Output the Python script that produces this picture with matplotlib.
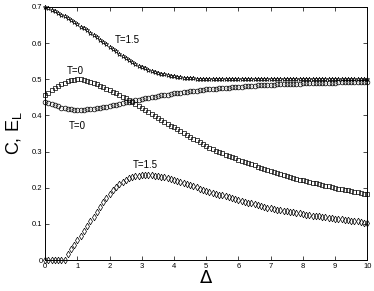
import numpy as np
import matplotlib
matplotlib.use('Agg')
import matplotlib.pyplot as plt

plt.rcParams['font.family'] = ['Liberation Sans', 'DejaVu Sans']

delta = np.round(np.arange(0, 101) * 0.1, 1)

# T=1.5, upper curve (E_L)
el_t15 = [0.700, 0.697, 0.693, 0.689, 0.684, 0.679, 0.674, 0.669, 0.663, 0.658,
          0.652, 0.646, 0.641, 0.635, 0.629, 0.623, 0.616, 0.610, 0.603, 0.597,
          0.590, 0.584, 0.577, 0.571, 0.564, 0.558, 0.553, 0.547, 0.542, 0.538,
          0.534, 0.530, 0.527, 0.524, 0.521, 0.518, 0.516, 0.514, 0.512, 0.510,
          0.508, 0.507, 0.506, 0.505, 0.504, 0.503, 0.503, 0.502, 0.502, 0.501,
          0.501, 0.501, 0.501, 0.501, 0.501, 0.501, 0.501, 0.501, 0.501, 0.501,
          0.501, 0.501, 0.501, 0.501, 0.501, 0.500, 0.500, 0.500, 0.500, 0.500,
          0.500, 0.500, 0.500, 0.500, 0.500, 0.500, 0.500, 0.500, 0.500, 0.500,
          0.500, 0.500, 0.500, 0.500, 0.500, 0.500, 0.500, 0.500, 0.500, 0.500,
          0.500, 0.500, 0.500, 0.500, 0.500, 0.500, 0.500, 0.500, 0.500, 0.500,
          0.500]

# T=0, squares
c_t0 = [0.456, 0.463, 0.470, 0.476, 0.482, 0.487, 0.491, 0.495, 0.498, 0.499,
        0.500, 0.500, 0.498, 0.496, 0.493, 0.490, 0.486, 0.482, 0.478, 0.474,
        0.470, 0.466, 0.461, 0.457, 0.452, 0.447, 0.442, 0.437, 0.431, 0.426,
        0.421, 0.416, 0.410, 0.405, 0.399, 0.394, 0.388, 0.383, 0.377, 0.372,
        0.367, 0.362, 0.356, 0.351, 0.346, 0.341, 0.336, 0.331, 0.326, 0.321,
        0.316, 0.311, 0.307, 0.303, 0.300, 0.296, 0.292, 0.289, 0.285, 0.282,
        0.278, 0.275, 0.271, 0.268, 0.265, 0.262, 0.258, 0.255, 0.252, 0.249,
        0.246, 0.243, 0.241, 0.238, 0.235, 0.233, 0.230, 0.228, 0.225, 0.223,
        0.221, 0.218, 0.216, 0.214, 0.212, 0.210, 0.208, 0.206, 0.204, 0.202,
        0.200, 0.198, 0.196, 0.194, 0.193, 0.191, 0.189, 0.188, 0.186, 0.184,
        0.183]

# T=0, circles
el_t0 = [0.438, 0.435, 0.431, 0.428, 0.425, 0.422, 0.420, 0.418, 0.417, 0.416,
         0.416, 0.416, 0.416, 0.417, 0.418, 0.419, 0.420, 0.421, 0.423, 0.424,
         0.426, 0.428, 0.430, 0.432, 0.434, 0.436, 0.438, 0.440, 0.442, 0.443,
         0.445, 0.447, 0.449, 0.451, 0.452, 0.454, 0.456, 0.457, 0.458, 0.460,
         0.461, 0.462, 0.463, 0.465, 0.466, 0.467, 0.468, 0.469, 0.470, 0.471,
         0.472, 0.473, 0.473, 0.474, 0.475, 0.476, 0.477, 0.477, 0.478, 0.479,
         0.479, 0.480, 0.481, 0.481, 0.482, 0.482, 0.483, 0.483, 0.484, 0.484,
         0.485, 0.485, 0.486, 0.486, 0.486, 0.487, 0.487, 0.488, 0.488, 0.488,
         0.489, 0.489, 0.489, 0.490, 0.490, 0.490, 0.490, 0.491, 0.491, 0.491,
         0.491, 0.492, 0.492, 0.492, 0.492, 0.492, 0.493, 0.493, 0.493, 0.493,
         0.493]

# T=1.5, diamonds
c_t15 = [0.000, 0.000, 0.000, 0.000, 0.000, 0.000, 0.000, 0.018, 0.030, 0.043,
         0.055, 0.068, 0.081, 0.094, 0.107, 0.120, 0.134, 0.147, 0.160, 0.172,
         0.184, 0.194, 0.203, 0.211, 0.217, 0.222, 0.226, 0.229, 0.232, 0.234,
         0.235, 0.236, 0.236, 0.235, 0.234, 0.233, 0.231, 0.229, 0.227, 0.224,
         0.221, 0.219, 0.216, 0.213, 0.210, 0.207, 0.204, 0.201, 0.198, 0.195,
         0.192, 0.189, 0.186, 0.184, 0.181, 0.179, 0.176, 0.174, 0.171, 0.169,
         0.166, 0.164, 0.161, 0.159, 0.157, 0.155, 0.152, 0.150, 0.148, 0.145,
         0.143, 0.141, 0.140, 0.138, 0.136, 0.135, 0.133, 0.132, 0.130, 0.129,
         0.127, 0.126, 0.125, 0.123, 0.122, 0.121, 0.120, 0.119, 0.117, 0.116,
         0.115, 0.114, 0.113, 0.111, 0.110, 0.109, 0.108, 0.107, 0.105, 0.104,
         0.103]

fig = plt.figure(figsize=(3.74, 2.91), dpi=100)
ax = fig.add_axes([0.121, 0.106, 0.861, 0.870])

mk = dict(color='k', ls='none', ms=3.4, mew=0.5, mfc='none', clip_on=False)
ax.plot(delta, el_t15, marker='*', **mk)
ax.plot(delta, c_t0, marker='s', **mk)
ax.plot(delta, el_t0, marker='o', **mk)
ax.plot(delta, c_t15, marker='d', **mk)

ax.text(2.54, 0.609, 'T=1.5', fontsize=7, ha='center', va='center')
ax.text(0.92, 0.524, 'T=0', fontsize=7, ha='center', va='center')
ax.text(1.0, 0.372, 'T=0', fontsize=7, ha='center', va='center')
ax.text(3.1, 0.263, 'T=1.5', fontsize=7, ha='center', va='center')

ax.set_xlim(0, 10)
ax.set_ylim(0, 0.7)
ax.set_xticks(range(0, 11))
ax.set_yticks([0, 0.1, 0.2, 0.3, 0.4, 0.5, 0.6, 0.7])
ax.set_yticklabels(['0', '0.1', '0.2', '0.3', '0.4', '0.5', '0.6', '0.7'])
ax.tick_params(direction='in', length=3, width=0.5, labelsize=5.5, pad=2,
               top=True, right=True)
for s in ax.spines.values():
    s.set_linewidth(0.7)

ax.set_xlabel(r'$\Delta$', fontsize=13, labelpad=0)
ax.set_ylabel(r'C, E$_\mathregular{L}$', fontsize=13, labelpad=6)

fig.savefig('out.png', dpi=100)
